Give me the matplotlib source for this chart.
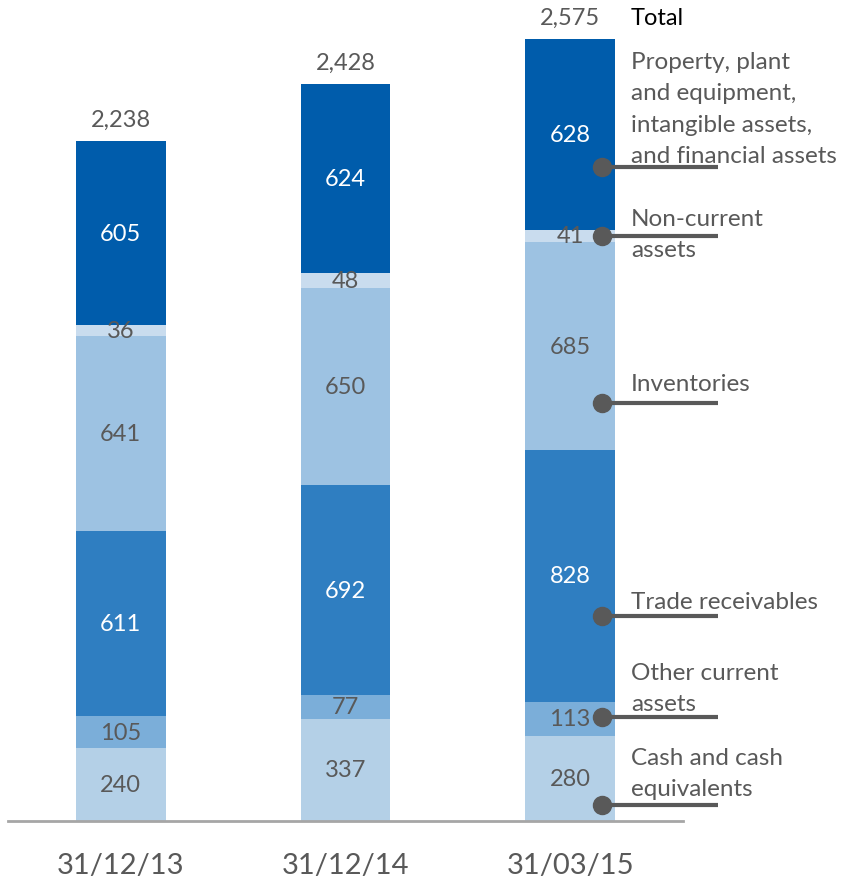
import matplotlib.pyplot as plt

plt.rcParams['font.family'] = ['Lato', 'DejaVu Sans']

dates = ['31/12/13', '31/12/14', '31/03/15']

# bottom to top
cash = [240, 337, 280]
other_current = [105, 77, 113]
trade_receivables = [611, 692, 828]
inventories = [641, 650, 685]
non_current = [36, 48, 41]
ppe = [605, 624, 628]

series = [cash, other_current, trade_receivables, inventories, non_current, ppe]
colors = ['#B4D0E7', '#7BAED9', '#2F7EC1', '#9DC2E2', '#C9DCEE', '#005CAB']
text_colors = ['#595959', '#595959', 'white', '#595959', '#595959', 'white']

legend_labels = ['Cash and cash\nequivalents', 'Other current\nassets',
                 'Trade receivables', 'Inventories', 'Non-current\nassets',
                 'Property, plant\nand equipment,\nintangible assets,\nand financial assets']
# dot height (data units) and text centre for each legend entry
legend_dot = [53, 342, 675, 1376, 1926, 2153]
legend_text = [158, 438, 724, 1442, 1933, 2346]

grey = '#595959'

W, H = 842, 878
fig = plt.figure(figsize=(W / 100, H / 100), dpi=100)
ax = fig.add_axes([8 / W, (H - 822) / H, 675 / W, 782 / H])
ax.set_xlim(-0.502, 2.502)
ax.set_ylim(0, 2575)

x = range(len(dates))
bottom = [0, 0, 0]
for vals, c, tc in zip(series, colors, text_colors):
    bars = ax.bar(x, vals, width=0.4, bottom=bottom, color=c, edgecolor='none')
    for i, v in enumerate(vals):
        ax.text(i, bottom[i] + v / 2, str(v), ha='center', va='center',
                fontsize=17, color=tc)
    bottom = [b + v for b, v in zip(bottom, vals)]

for i, t in enumerate(bottom):
    ax.annotate(f'{t:,}', (i, t), xytext=(0, 8), textcoords='offset points',
                ha='center', va='bottom', fontsize=17, color=grey)

ax.text(2.271, 2575 + 72, 'Total', ha='left', va='center', fontsize=17,
        color='black', clip_on=False)

for lab, yd, yt in zip(legend_labels, legend_dot, legend_text):
    ax.plot([2.142, 2.658], [yd, yd], color=grey, lw=3, clip_on=False,
            solid_capstyle='butt')
    ax.plot(2.142, yd, 'o', color=grey, ms=13, clip_on=False)
    ax.text(2.271, yt, lab, ha='left', va='center', fontsize=17.5, color=grey,
            linespacing=1.6, clip_on=False)

for s in ['top', 'right', 'left']:
    ax.spines[s].set_visible(False)
ax.spines['bottom'].set_color('#A6A6A6')
ax.spines['bottom'].set_linewidth(2)
ax.set_yticks([])
ax.set_xticks(list(x))
ax.set_xticklabels(dates, fontsize=21, color=grey)
ax.tick_params(axis='x', length=0, pad=22)

fig.savefig('out.png', dpi=100)
